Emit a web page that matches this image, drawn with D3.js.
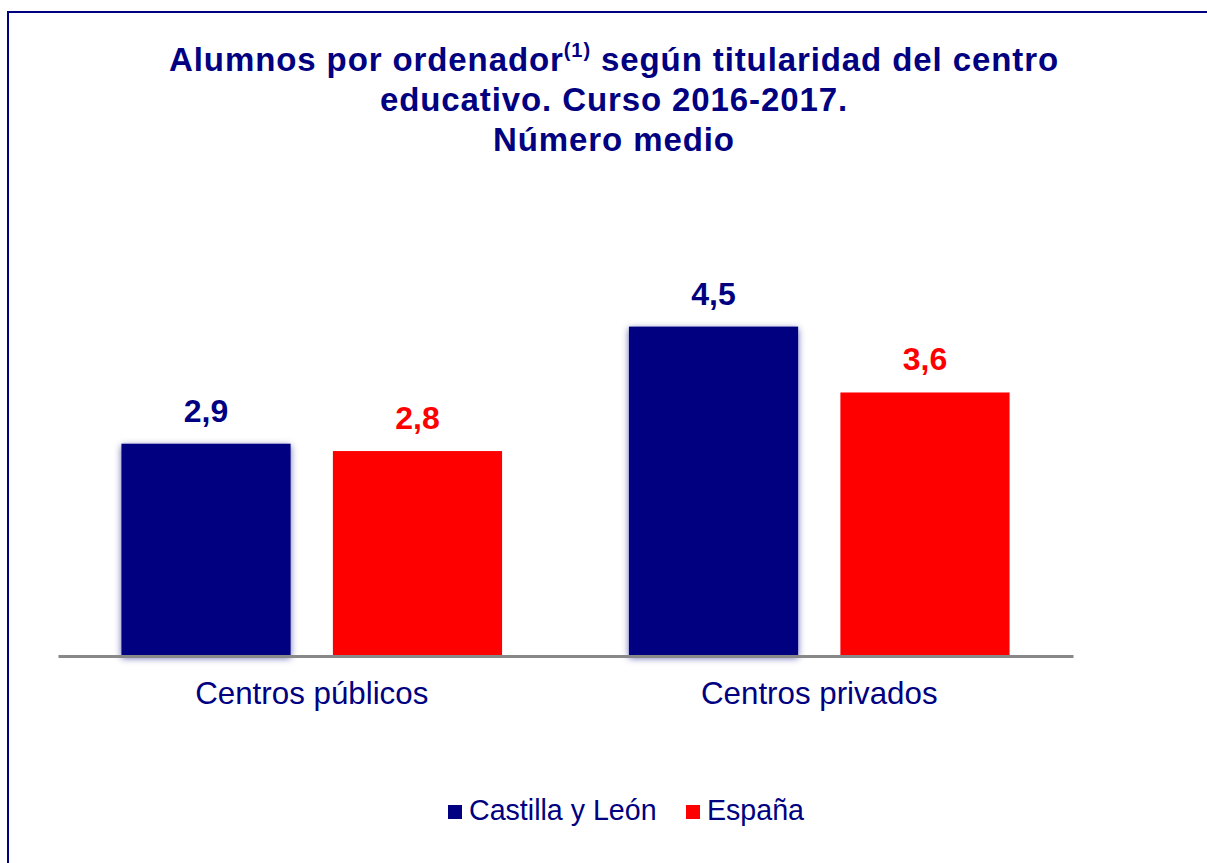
<!DOCTYPE html>
<html>
<head>
<meta charset="utf-8">
<script src="https://cdn.jsdelivr.net/npm/d3@7"></script>
<style>
  body { margin: 0; background: white; }
  text { font-family: "Liberation Sans", Arial, sans-serif; }
</style>
</head>
<body>
<div id="chart"></div>
<script>
// Alumnos por ordenador - datos
var categories = ["Centros públicos", "Centros privados"];
var seriesNames = ["Castilla y León", "España"];
var castillaValues = [2.9, 4.5];
var espanaValues = [2.8, 3.6];
var seriesColors = ["#000080", "#ff0000"];

var width = 1207;
var height = 863;
var navy = "#000080";

var svg = d3.select("#chart")
    .append("svg")
    .attr("width", width)
    .attr("height", height);

// shadow for the dark bars
var defs = svg.append("defs");
var shadow = defs.append("filter")
    .attr("id", "barShadow")
    .attr("x", "-10%").attr("y", "-10%")
    .attr("width", "120%").attr("height", "120%");
shadow.append("feDropShadow")
    .attr("dx", 0).attr("dy", 2)
    .attr("stdDeviation", 3.5)
    .attr("flood-color", navy)
    .attr("flood-opacity", 0.6);

// outer frame
svg.append("rect")
    .attr("x", 8).attr("y", 12)
    .attr("width", 1215).attr("height", 880)
    .attr("fill", "none")
    .attr("stroke", navy)
    .attr("stroke-width", 2);

// Title
var title = svg.append("text")
    .attr("text-anchor", "middle")
    .attr("fill", navy)
    .attr("font-weight", "bold")
    .attr("font-size", 33)
    .attr("letter-spacing", 0.9);
var line1 = title.append("tspan").attr("x", 614).attr("y", 71);
line1.append("tspan").text("Alumnos por ordenador");
line1.append("tspan").text("(1)").attr("font-size", 20).attr("dy", -14);
line1.append("tspan").text(" según titularidad del centro").attr("dy", 14);
title.append("tspan").attr("x", 614).attr("y", 111).text("educativo. Curso 2016-2017.");
title.append("tspan").attr("x", 614).attr("y", 151).text("Número medio");

// scales
var x0 = d3.scaleBand()
    .domain(categories)
    .range([58, 1073])
    .padding(0);

var x1 = d3.scaleBand()
    .domain(seriesNames)
    .range([0, x0.bandwidth()])
    .paddingInner(0.2)
    .paddingOuter(0.3);

var y = d3.scaleLinear()
    .domain([0, 5])
    .range([656, 290]);

var rows = categories.map(function(c, i) {
    return { category: c, values: [castillaValues[i], espanaValues[i]] };
});

var fmt = d3.formatLocale({ decimal: ",", thousands: ".", grouping: [3], currency: ["", "€"] }).format(".1f");

var groups = svg.selectAll(".group")
    .data(rows)
    .enter()
    .append("g")
    .attr("class", "group")
    .attr("transform", d => `translate(${x0(d.category)},0)`);

var bars = groups.selectAll("g.bar")
    .data(d => d.values.map((v, i) => ({ name: seriesNames[i], value: v, color: seriesColors[i], idx: i })))
    .enter()
    .append("g")
    .attr("class", "bar");

bars.append("rect")
    .attr("x", d => x1(d.name))
    .attr("y", d => y(d.value))
    .attr("width", x1.bandwidth())
    .attr("height", d => y(0) - y(d.value))
    .attr("fill", d => d.color)
    .attr("filter", d => d.idx === 0 ? "url(#barShadow)" : null);

bars.append("text")
    .attr("x", d => x1(d.name) + x1.bandwidth() / 2)
    .attr("y", d => y(d.value) - 22)
    .attr("text-anchor", "middle")
    .attr("font-size", 32)
    .attr("font-weight", "bold")
    .attr("fill", d => d.color)
    .text(d => fmt(d.value));

// x axis
var xAxis = d3.axisBottom(x0).tickSize(0).tickSizeOuter(0);
var axisG = svg.append("g")
    .attr("transform", `translate(0,${y(0)})`)
    .call(xAxis);
axisG.select(".domain")
    .attr("stroke", "#888888")
    .attr("stroke-width", 3);
axisG.selectAll(".tick text")
    .attr("y", 48)
    .attr("dy", 0)
    .attr("font-size", 31.3)
    .attr("font-family", "Liberation Sans, Arial, sans-serif")
    .attr("fill", navy);

// legend
var legendX = [448, 686];
var legend = svg.selectAll(".legend")
    .data(seriesNames)
    .enter()
    .append("g")
    .attr("class", "legend")
    .attr("transform", (d, i) => `translate(${legendX[i]},0)`);
legend.append("rect")
    .attr("x", 0).attr("y", 805)
    .attr("width", 14).attr("height", 14)
    .attr("fill", (d, i) => seriesColors[i]);
legend.append("text")
    .attr("x", 21).attr("y", 820)
    .attr("font-size", 28.6)
    .attr("fill", navy)
    .text(d => d);
</script>
</body>
</html>
